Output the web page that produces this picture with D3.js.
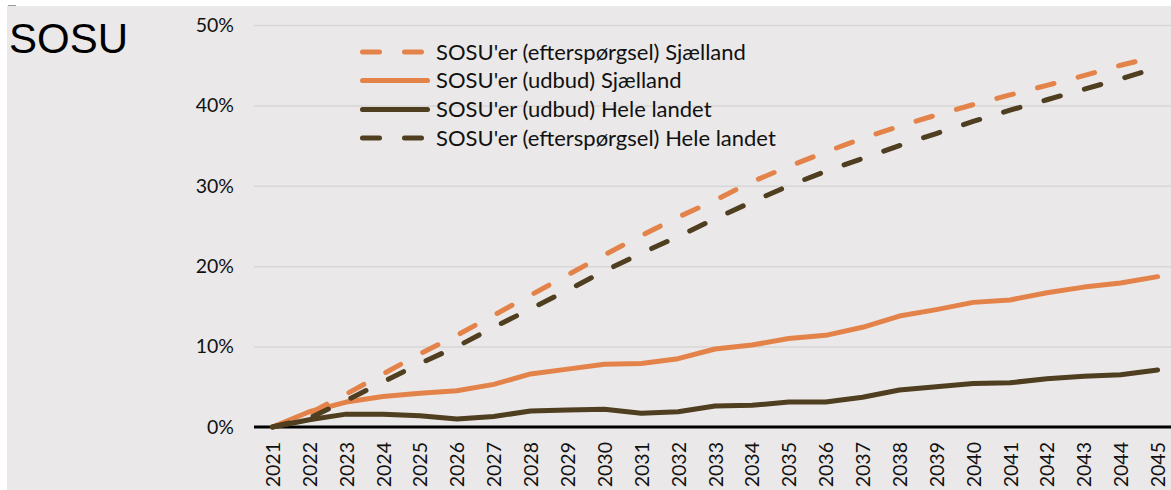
<!DOCTYPE html>
<html>
<head>
<meta charset="utf-8">
<script src="https://cdn.jsdelivr.net/npm/d3@7"></script>
<style>
  html, body { margin: 0; padding: 0; background: #ffffff; }
  svg { display: block; }
</style>
</head>
<body>
<svg id="chart" width="1171" height="490"></svg>
<script>
// ---- data ----
const years = ["2021","2022","2023","2024","2025","2026","2027","2028","2029","2030","2031","2032","2033","2034","2035","2036","2037","2038","2039","2040","2041","2042","2043","2044","2045"];
const demandSjaelland = [0, 1.7, 4.1, 6.6, 9.1, 11.4, 13.9, 16.4, 18.9, 21.4, 23.8, 26.1, 28.2, 30.5, 32.4, 34.2, 35.9, 37.4, 38.8, 40.1, 41.3, 42.5, 43.7, 45.0, 46.1];
const supplySjaelland = [0, 1.9, 3.1, 3.8, 4.2, 4.5, 5.3, 6.6, 7.2, 7.8, 7.9, 8.5, 9.7, 10.2, 11.0, 11.4, 12.4, 13.8, 14.6, 15.5, 15.8, 16.7, 17.4, 17.9, 18.7];
const supplyHeleLandet = [0, 0.9, 1.6, 1.6, 1.4, 1.0, 1.3, 2.0, 2.1, 2.2, 1.7, 1.9, 2.6, 2.7, 3.1, 3.1, 3.7, 4.6, 5.0, 5.4, 5.5, 6.0, 6.3, 6.5, 7.1];
const demandHeleLandet = [0, 1.1, 3.3, 5.6, 7.9, 10.0, 12.4, 14.7, 17.0, 19.4, 21.6, 23.7, 25.9, 28.0, 30.0, 31.8, 33.4, 35.0, 36.5, 38.0, 39.4, 40.7, 42.0, 43.3, 44.7];
const yTicks = [0, 10, 20, 30, 40, 50];
const seriesNames = ["SOSU'er (efterspørgsel) Sjælland", "SOSU'er (udbud) Sjælland", "SOSU'er (udbud) Hele landet", "SOSU'er (efterspørgsel) Hele landet"];
const title = "SOSU";

const ORANGE = "#E3834A";
const BROWN = "#4F3E1F";
const series = [
  { name: seriesNames[0], values: demandSjaelland, color: ORANGE, dashed: true },
  { name: seriesNames[1], values: supplySjaelland, color: ORANGE, dashed: false },
  { name: seriesNames[2], values: supplyHeleLandet, color: BROWN, dashed: false },
  { name: seriesNames[3], values: demandHeleLandet, color: BROWN, dashed: true }
];

// ---- layout ----
const W = 1171, H = 490;
const plotLeft = 254, plotRight = 1176, yZero = 427, yTop = 25;
const FONT = "Lato, 'Noto Sans', sans-serif";
const DASH = "17,25";

const svg = d3.select("#chart");

// background
svg.append("rect").attr("x", 7).attr("y", 6).attr("width", W - 7).attr("height", H - 6).attr("fill", "#EAE8E8");
svg.append("line").attr("x1", 8).attr("x2", 16).attr("y1", 5.5).attr("y2", 5.5).attr("stroke", "#9a9a9a").attr("stroke-width", 1);

const x = d3.scalePoint().domain(years).range([plotLeft, plotRight]).padding(0.5);
const y = d3.scaleLinear().domain([0, 50]).range([yZero, yTop]);

// gridlines
const grid = svg.append("g").attr("transform", `translate(${plotLeft},0)`)
  .call(d3.axisLeft(y).tickValues(yTicks.filter(t => t > 0)).tickSize(-(plotRight - plotLeft)).tickFormat(""));
grid.select(".domain").remove();
grid.selectAll(".tick line").attr("stroke", "#D8D6D6").attr("stroke-width", 1.5);

// y axis labels
const yAxis = svg.append("g").attr("transform", `translate(${plotLeft},0)`)
  .call(d3.axisLeft(y).tickValues(yTicks).tickSize(0).tickPadding(20).tickFormat(d => d + "%"));
yAxis.select(".domain").remove();
yAxis.selectAll("text").attr("font-family", FONT).attr("font-size", 19.5).attr("fill", "#111");

// zero line
svg.append("line").attr("x1", plotLeft).attr("x2", plotRight).attr("y1", y(0)).attr("y2", y(0))
  .attr("stroke", "#000").attr("stroke-width", 3);

// x axis labels
const xAxis = svg.append("g").attr("transform", `translate(0,${yZero})`)
  .call(d3.axisBottom(x).tickSize(0).tickPadding(0));
xAxis.select(".domain").remove();
xAxis.selectAll(".tick text")
  .attr("font-family", FONT).attr("font-size", 19.5).attr("fill", "#111")
  .attr("text-anchor", "end")
  .attr("transform", "translate(0,15) rotate(-90)")
  .attr("x", 0).attr("y", 0).attr("dy", "0.36em");

// lines
const line = d3.line().x((d, i) => x(years[i])).y(d => y(d));
svg.append("g").selectAll("path").data(series).join("path")
  .attr("d", d => line(d.values))
  .attr("fill", "none")
  .attr("stroke", d => d.color)
  .attr("stroke-width", 5)
  .attr("stroke-linecap", "round")
  .attr("stroke-linejoin", "round")
  .attr("stroke-dasharray", d => d.dashed ? DASH : null);

// legend
const legendRowY = [52, 80.5, 109.5, 138];
const lg = svg.append("g").selectAll("g").data(series).join("g")
  .attr("transform", (d, i) => `translate(0,${legendRowY[i]})`);
lg.append("line").attr("x1", 362.5).attr("x2", 427.5).attr("y1", 0).attr("y2", 0)
  .attr("stroke", d => d.color).attr("stroke-width", 5).attr("stroke-linecap", "round")
  .attr("stroke-dasharray", d => d.dashed ? DASH : null);
lg.append("text").attr("x", 436).attr("y", 0).attr("dy", "0.35em")
  .attr("font-family", FONT).attr("font-size", 22).attr("fill", "#111")
  .text(d => d.name);

// title
svg.append("text").attr("x", 9).attr("y", 53)
  .attr("font-family", "'Liberation Sans', Arial, sans-serif").attr("font-size", 42).attr("fill", "#000")
  .text(title);
</script>
</body>
</html>
